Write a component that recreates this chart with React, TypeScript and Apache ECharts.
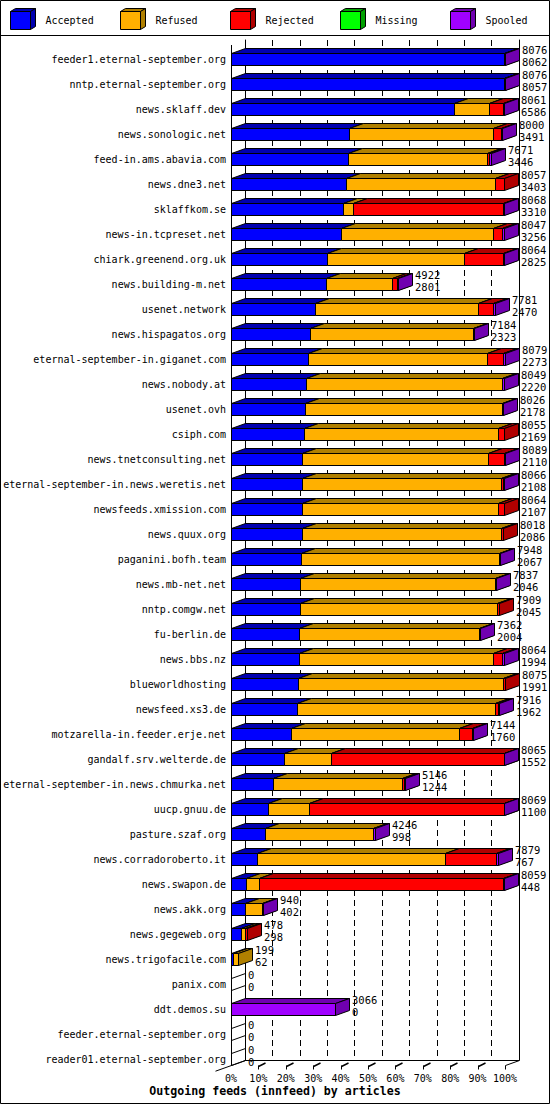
import React, { useEffect, useRef } from 'react'
import * as echarts from 'echarts'

// innfeed outgoing feeds, one row per peer
const feeds = [
  'feeder1.eternal-september.org',
  'nntp.eternal-september.org',
  'news.sklaff.dev',
  'news.sonologic.net',
  'feed-in.ams.abavia.com',
  'news.dne3.net',
  'sklaffkom.se',
  'news-in.tcpreset.net',
  'chiark.greenend.org.uk',
  'news.building-m.net',
  'usenet.network',
  'news.hispagatos.org',
  'eternal-september-in.giganet.com',
  'news.nobody.at',
  'usenet.ovh',
  'csiph.com',
  'news.tnetconsulting.net',
  'eternal-september-in.news.weretis.net',
  'newsfeeds.xmission.com',
  'news.quux.org',
  'paganini.bofh.team',
  'news.mb-net.net',
  'nntp.comgw.net',
  'fu-berlin.de',
  'news.bbs.nz',
  'blueworldhosting',
  'newsfeed.xs3.de',
  'motzarella-in.feeder.erje.net',
  'gandalf.srv.welterde.de',
  'eternal-september-in.news.chmurka.net',
  'uucp.gnuu.de',
  'pasture.szaf.org',
  'news.corradoroberto.it',
  'news.swapon.de',
  'news.akk.org',
  'news.gegeweb.org',
  'news.trigofacile.com',
  'panix.com',
  'ddt.demos.su',
  'feeder.eternal-september.org',
  'reader01.eternal-september.org',
]

const offered = [8076, 8076, 8061, 8000, 7671, 8057, 8068, 8047, 8064, 4922, 7781, 7184, 8079, 8049, 8026, 8055, 8089, 8066, 8064, 8018, 7948, 7837, 7909, 7362, 8064, 8075, 7916, 7144, 8065, 5146, 8069, 4246, 7879, 8059, 940, 478, 199, 0, 3066, 0, 0]
const accepted = [8062, 8057, 6586, 3491, 3446, 3403, 3310, 3256, 2825, 2801, 2470, 2323, 2273, 2220, 2178, 2169, 2110, 2108, 2107, 2086, 2067, 2046, 2045, 2004, 1994, 1991, 1962, 1760, 1552, 1244, 1100, 998, 767, 448, 402, 298, 62, 0, 0, 0, 0]
const refused = [0, 5, 1021, 4233, 4121, 4400, 283, 4487, 4044, 1943, 4812, 4812, 5275, 5770, 5812, 5722, 5468, 5853, 5784, 5884, 5854, 5757, 5817, 5317, 5730, 6047, 5841, 4961, 1409, 3795, 1194, 3203, 5541, 387, 504, 125, 137, 0, 0, 0, 0]
const rejected = [0, 0, 413, 237, 40, 254, 4445, 257, 1169, 147, 461, 0, 490, 0, 0, 164, 481, 77, 173, 48, 0, 0, 47, 0, 286, 37, 88, 384, 5089, 77, 5756, 0, 1524, 7185, 0, 55, 0, 0, 0, 0, 0]
const missing = [0, 0, 0, 0, 0, 0, 0, 0, 0, 0, 0, 0, 0, 0, 0, 0, 0, 0, 0, 0, 0, 0, 0, 0, 0, 0, 0, 0, 0, 0, 0, 0, 0, 0, 0, 0, 0, 0, 0, 0, 0]
const spooled = [14, 14, 41, 39, 64, 0, 30, 47, 26, 31, 38, 49, 41, 59, 36, 0, 30, 28, 0, 0, 27, 34, 0, 41, 54, 0, 25, 39, 15, 30, 19, 45, 47, 39, 34, 0, 0, 0, 3066, 0, 0]

const categories = ['Accepted', 'Refused', 'Rejected', 'Missing', 'Spooled']
const categoryValues = [accepted, refused, rejected, missing, spooled]
const frontColors = ['#0000ff', '#ffb000', '#ff0000', '#00ff00', '#a000ff']
const darkColors = ['#0000b0', '#b08000', '#b00000', '#00a000', '#7000b0']

const MONO = '"DejaVu Sans Mono", "Liberation Mono", monospace'
const DX = 14 // 3d depth
const DY = 5
const BAR_H = 12
const maxOffered = Math.max(...offered)
const pct = (v: number) => (v / maxOffered) * 100
const crisp = (v: number) => Math.round(v) + 0.5

const App: React.FC = () => {
  const chartRef = useRef<HTMLDivElement>(null)

  useEffect(() => {
    if (!chartRef.current) return
    const chart = echarts.init(chartRef.current, undefined, { renderer: 'svg' })

    // one custom series per category, segments stacked left to right
    const barSeries = categories.map((name, ci) => {
      const data: number[][] = []
      feeds.forEach((_, row) => {
        let before = 0
        for (let k = 0; k < ci; k++) before += categoryValues[k][row]
        const v = categoryValues[ci][row]
        if (v > 0) data.push([row, pct(before), pct(before + v)])
      })
      return {
        name,
        type: 'custom',
        z: 2 + ci,
        encode: { x: [1, 2], y: 0 },
        data,
        renderItem: (params: any, api: any) => {
          const row = api.value(0)
          const a = api.coord([api.value(1), row])
          const b = api.coord([api.value(2), row])
          const x0 = crisp(a[0])
          const x1 = Math.max(x0, crisp(b[0]))
          const top = crisp(a[1] - BAR_H / 2)
          const bottom = top + BAR_H
          const line = { stroke: '#000', lineWidth: 1 }
          return {
            type: 'group',
            children: [
              {
                type: 'rect',
                shape: { x: x0, y: top, width: x1 - x0, height: BAR_H },
                style: { fill: frontColors[ci], ...line },
              },
              {
                type: 'polygon',
                shape: { points: [[x0, top], [x0 + DX, top - DY], [x1 + DX, top - DY], [x1, top]] },
                style: { fill: darkColors[ci], ...line },
              },
              {
                type: 'polygon',
                shape: { points: [[x1, top], [x1 + DX, top - DY], [x1 + DX, bottom - DY], [x1, bottom]] },
                style: { fill: darkColors[ci], ...line },
              },
            ],
          }
        },
      }
    })

    // empty feeds still get the outline of a zero-width box
    const emptySeries = {
      type: 'custom',
      z: 8,
      encode: { x: 1, y: 0 },
      data: feeds.map((_, row) => [row, 0]).filter(d => offered[d[0]] === 0),
      renderItem: (params: any, api: any) => {
        const p = api.coord([0, api.value(0)])
        const x0 = crisp(p[0])
        const top = crisp(p[1] - BAR_H / 2)
        const bottom = top + BAR_H
        return {
          type: 'polygon',
          shape: { points: [[x0, top], [x0 + DX, top - DY], [x0 + DX, bottom - DY], [x0, bottom]] },
          style: { fill: 'none', stroke: '#000', lineWidth: 1 },
        }
      },
    }

    const labelSeries = {
      type: 'custom',
      z: 10,
      encode: { x: 1, y: 0 },
      data: feeds.map((_, row) => [row, pct(offered[row])]),
      renderItem: (params: any, api: any) => {
        const row = api.value(0)
        const p = api.coord([api.value(1), row])
        const x = Math.round(p[0]) + DX + 3
        const font = `10.5px ${MONO}`
        const txt = (text: string, y: number) => ({
          type: 'text',
          x,
          y,
          style: {
            text,
            font,
            fill: '#000',
            align: 'left',
            verticalAlign: 'middle',
            textAlign: 'left',
            textVerticalAlign: 'middle',
          },
        })
        return {
          type: 'group',
          children: [
            txt(String(offered[row]), p[1] - 9),
            txt(String(accepted[row]), p[1] + 2.5),
          ],
        }
      },
    }

    const option: any = {
      animation: false,
      backgroundColor: '#fff',
      title: {
        text: 'Outgoing feeds (innfeed) by articles',
        left: 'center',
        top: 1085,
        padding: 0,
        textStyle: { fontFamily: MONO, fontSize: 11.6, fontWeight: 'bold', color: '#000' },
      },
      grid: [
        { left: 231, top: 46.5, width: 274, height: 1025 },
        { left: 245, top: 40, width: 274, height: 1020 },
      ],
      xAxis: [
        {
          type: 'value',
          gridIndex: 0,
          min: 0,
          max: 100,
          interval: 10,
          axisLine: { show: false },
          axisTick: { show: false },
          splitLine: { show: false },
          axisLabel: { formatter: '{value}%', margin: 2, fontSize: 10, fontFamily: MONO, color: '#000' },
        },
        {
          type: 'value',
          gridIndex: 1,
          min: 0,
          max: 100,
          interval: 10,
          axisLine: { show: true, onZero: false, lineStyle: { color: '#000', width: 1 } },
          axisTick: { show: false },
          axisLabel: { show: false },
          splitLine: {
            show: true,
            showMinLine: false,
            showMaxLine: false,
            lineStyle: { color: '#000', width: 1, type: [6, 4] },
          },
        },
      ],
      yAxis: [
        {
          type: 'category',
          gridIndex: 0,
          data: feeds,
          inverse: true,
          axisLine: { show: false },
          axisTick: { show: false },
          splitLine: { show: false },
          axisLabel: { margin: 5, fontSize: 10, fontFamily: MONO, color: '#000' },
        },
        {
          type: 'value',
          gridIndex: 1,
          min: 0,
          max: 1,
          axisLine: { show: true, onZero: false, lineStyle: { color: '#000', width: 1 } },
          axisTick: { show: false },
          axisLabel: { show: false },
          splitLine: { show: false },
        },
        {
          type: 'value',
          gridIndex: 1,
          position: 'right',
          min: 0,
          max: 1,
          axisLine: { show: true, onZero: false, lineStyle: { color: '#000', width: 1 } },
          axisTick: { show: false },
          axisLabel: { show: false },
          splitLine: { show: false },
        },
      ],
      series: [...barSeries, emptySeries, labelSeries],
    }

    chart.setOption(option)

    // frame, floor and legend drawn as graphics
    const frontLeft = crisp(chart.convertToPixel({ xAxisIndex: 0 }, 0) as number)
    const frontRight = crisp(chart.convertToPixel({ xAxisIndex: 0 }, 100) as number)
    const floorY = 1065.5
    const black = { stroke: '#000', lineWidth: 1 }
    const graphic: any[] = [
      { type: 'rect', shape: { x: 0.5, y: 0.5, width: 549, height: 1103 }, style: { fill: 'none', ...black } },
      { type: 'line', shape: { x1: 0, y1: 35.5, x2: 550, y2: 35.5 }, style: black },
      { type: 'line', shape: { x1: frontLeft, y1: 45, x2: frontLeft, y2: floorY }, style: black, z: 20 },
      { type: 'line', shape: { x1: frontLeft - 16, y1: floorY + 5.7, x2: frontLeft + DX, y2: floorY - DY }, style: black },
      { type: 'line', shape: { x1: frontRight, y1: floorY, x2: frontRight + DX, y2: floorY - DY }, style: black },
    ]
    for (let v = 10; v <= 100; v += 10) {
      const x = crisp(chart.convertToPixel({ xAxisIndex: 0 }, v) as number)
      graphic.push({ type: 'line', shape: { x1: x, y1: floorY, x2: x, y2: floorY + 4 }, style: black })
      if (v < 100) {
        graphic.push({ type: 'line', shape: { x1: x, y1: floorY + 1, x2: x + 7, y2: floorY - 2.5 }, style: { stroke: '#000', lineWidth: 1.5 } })
      }
    }
    categories.forEach((name, i) => {
      const x = 10.5 + 110 * i
      const top = 11.5
      const bottom = 29.5
      graphic.push(
        { type: 'rect', shape: { x, y: top, width: 20, height: 18 }, style: { fill: frontColors[i], ...black } },
        { type: 'polygon', shape: { points: [[x, top], [x + 5, top - 3], [x + 25, top - 3], [x + 20, top]] }, style: { fill: darkColors[i], ...black } },
        { type: 'polygon', shape: { points: [[x + 20, top], [x + 25, top - 3], [x + 25, bottom - 3], [x + 20, bottom]] }, style: { fill: darkColors[i], ...black } },
        {
          type: 'text',
          x: x + 35,
          y: 20.5,
          style: {
            text: name,
            font: `10px ${MONO}`,
            fill: '#000',
            align: 'left',
            verticalAlign: 'middle',
            textAlign: 'left',
            textVerticalAlign: 'middle',
          },
        },
      )
    })
    chart.setOption({ graphic })

    return () => {
      chart.dispose()
    }
  }, [])

  return (
    <div
      ref={chartRef}
      style={{ position: 'absolute', left: 0, top: 0, width: 550, height: 1105, background: '#fff' }}
    />
  )
}

export default App
